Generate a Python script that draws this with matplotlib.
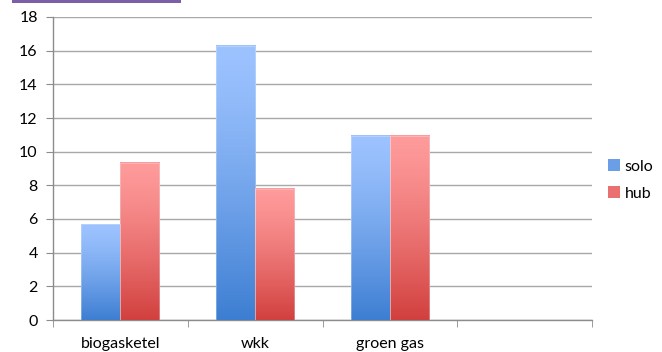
import numpy as np
import matplotlib
matplotlib.use("Agg")
from matplotlib import pyplot as plt
from matplotlib.patches import Patch, Rectangle

categories = ["biogasketel", "wkk", "groen gas"]
solo = [5.7, 16.3, 10.95]
hub = [9.35, 7.8, 10.95]
series_names = ["solo", "hub"]

# top (light) and bottom (dark) colour of each series
solo_cols = ("#9dc3ff", "#3d7ed2")
hub_cols = ("#ff9b9b", "#d1403e")

plt.rcParams['font.family'] = ['Lato', 'DejaVu Sans']

fig = plt.figure(figsize=(6.62, 3.52), dpi=100)
ax = fig.add_axes([53 / 662, 1 - 320 / 352, 539 / 662, 303 / 352])


def grad_bar(x0, w, h, cols):
    c_top = np.array(matplotlib.colors.to_rgb(cols[0]))
    c_bot = np.array(matplotlib.colors.to_rgb(cols[1]))
    t = np.linspace(0, 1, 200) ** 1.3
    img = c_top[None, :] * (1 - t[:, None]) + c_bot[None, :] * t[:, None]
    img = img[:, None, :]
    ax.imshow(img, extent=[x0, x0 + w, 0, h], aspect='auto', zorder=3,
              interpolation='bilinear', origin='upper')
    ax.add_patch(Rectangle((x0, 0), w, h, fill=False, edgecolor='#e8eef8',
                           linewidth=0.4, alpha=0.6, zorder=4))


bw = 0.29
for i in range(len(categories)):
    grad_bar(i - bw, bw, solo[i], solo_cols)
    grad_bar(i, bw, hub[i], hub_cols)

ax.set_xlim(-0.5, 3.5)
ax.set_ylim(0, 18)
ax.set_yticks(np.arange(0, 19, 2))
ax.set_xticks(range(len(categories)))
ax.set_xticklabels(categories)
ax.set_xticks(np.arange(-0.5, 3.6, 1), minor=True)

ax.grid(axis='y', color='#a8a8a8', linewidth=1.0, zorder=0)
ax.set_axisbelow(True)
for s in ['top', 'right']:
    ax.spines[s].set_visible(False)
for s in ['left', 'bottom']:
    ax.spines[s].set_color('#8c8c8c')
    ax.spines[s].set_linewidth(1.0)

ax.tick_params(axis='y', length=5, color='#8c8c8c', labelsize=11.5, pad=6,
               labelcolor='#000000')
ax.tick_params(axis='x', which='major', length=0, labelsize=11.5, pad=12)
ax.tick_params(axis='x', which='minor', length=5, color='#8c8c8c')

handles = [Patch(facecolor="#6a9fe8", edgecolor='none'),
           Patch(facecolor="#e87070", edgecolor='none')]
fig.legend(handles, series_names, loc='center left',
           bbox_to_anchor=(608 / 662, 1 - 180 / 352), frameon=False,
           borderpad=0, borderaxespad=0,
           fontsize=11.5, handlelength=0.75, handleheight=0.75,
           handletextpad=0.3, labelspacing=0.8)

# purple strip along the top edge
fig.patches.append(Rectangle((12 / 662, 1 - 3 / 352), 169 / 662, 3 / 352,
                             transform=fig.transFigure, facecolor='#7d5fa9',
                             edgecolor='none'))

fig.savefig("out.png", dpi=100)
